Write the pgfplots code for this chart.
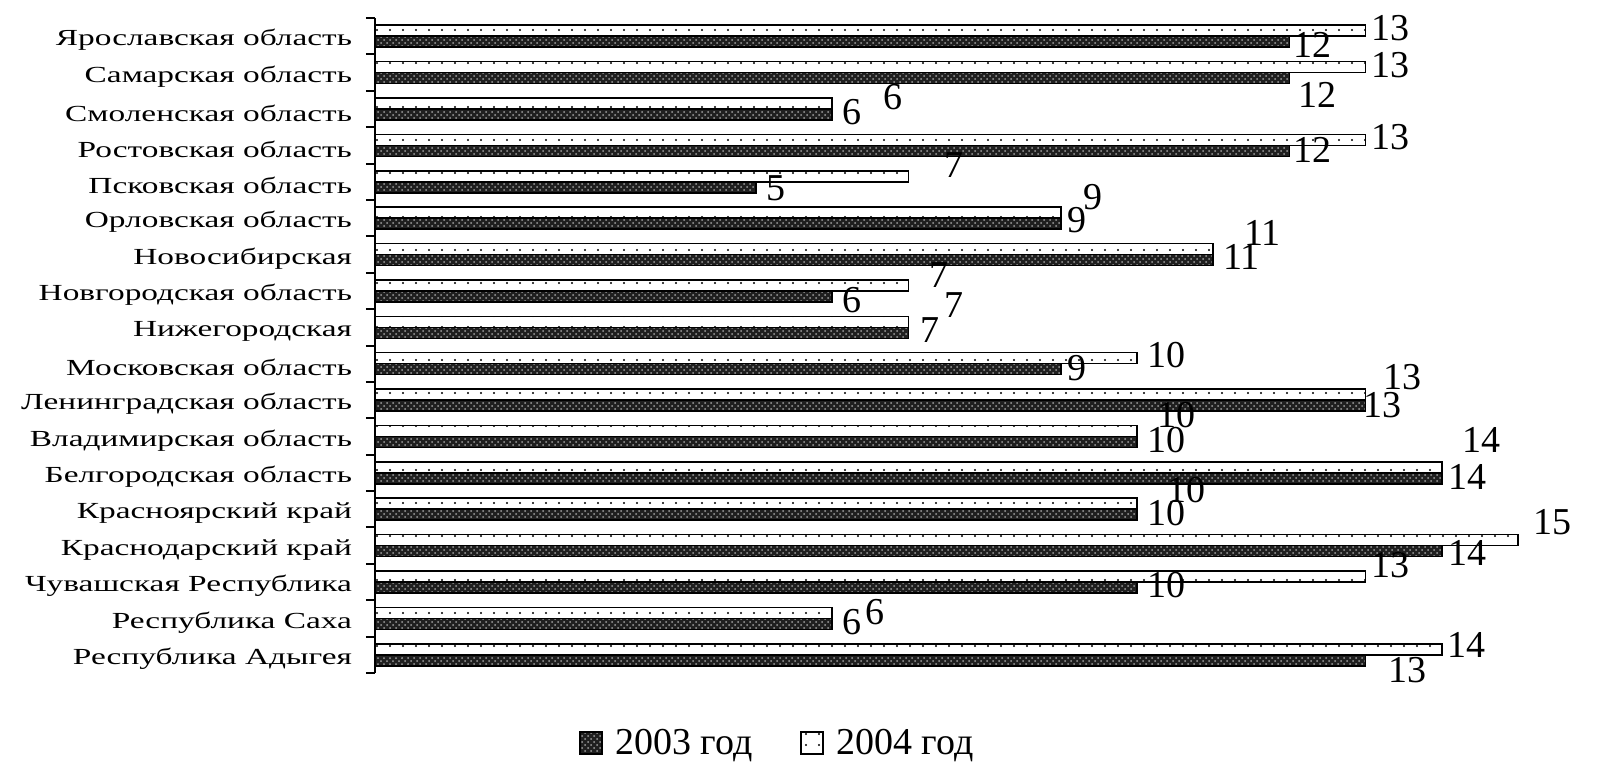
\documentclass[border=0pt]{standalone}
\usepackage{pgfplots}
\pgfplotsset{compat=1.18}
\usepackage{pgfplotstable}
\usepackage{fontspec}
\setmainfont{Liberation Serif}
\newfontfamily\catfont[FakeStretch=1.45]{Liberation Serif}
\usetikzlibrary{patterns,patterns.meta}

\tikzdeclarepattern{
  name=sparsedots, type=uncolored,
  bounding box={(-1pt,-1pt) and (1pt,1pt)},
  tile size={(6.5pt,5.5pt)},
  code={\fill (0pt,0pt) circle (0.55pt);}
}

% y: position (17 = top), v03/v04: values, dxa/dya: label shift 2003, dxb/dyb: label shift 2004
\pgfplotstableread{
y v03 v04 dxa dya dxb dyb
17 12 13 1.5 -1.5 2.5 1.5
16 12 13 4 -8.25 2.5 0.75
15 6 6 4.5 1.25 25 3.25
14 12 13 1.5 0.5 2.5 1.5
13 5 7 5 -0.25 17.5 5.75
12 9 9 3 1.75 11 7.75
11 11 11 4.5 1.75 15 8
10 6 7 4.5 -1.75 10 5.25
9 7 7 5.5 1.25 17.5 8.25
8 9 10 3 0.75 5 1.75
7 13 13 -1.5 0.25 8.5 8.75
6 10 10 5 0.75 10 7.75
5 14 14 3 0.75 10 13.5
4 10 10 5 0.75 15 6.75
3 14 15 3 -0.75 7.5 8.75
2 10 13 5 1.25 2.5 5.75
1 6 6 4.5 0.75 16 0.25
0 13 14 11 -4.75 2.5 2
}\datatable

\begin{document}
\begin{tikzpicture}
\path[use as bounding box] (0,0) rectangle (803pt,389pt);
\begin{axis}[
  at={(187.5pt,52.5pt)}, anchor=south west,
  scale only axis, width=571.5pt, height=327.5pt,
  xbar, bar width=5.5pt,
  xmin=0, xmax=15, ymin=-0.5, ymax=17.5,
  enlargelimits=false,
  axis x line=none, axis y line*=left,
  y axis line style={line width=1pt},
  ytick={0,...,17},
  yticklabels={Республика Адыгея, Республика Саха, Чувашская Республика, Краснодарский край, Красноярский край, Белгородская область, Владимирская область, Ленинградская область, Московская область, Нижегородская, Новгородская область, Новосибирская, Орловская область, Псковская область, Ростовская область, Смоленская область, Самарская область, Ярославская область},
  major tick length=0pt,
  minor ytick={-0.5,0.5,...,17.5},
  minor tick length=4.5pt,
  tick align=outside,
  minor tick style={line width=1pt, black},
  yticklabel style={font=\catfont\fontsize{11.5}{12}\selectfont, xshift=-8pt, yshift=-2pt},
  clip=false,
  /pgf/number format/assume math mode=true,
  nodes near coords, point meta=x,
  every node near coord/.append style={font=\fontsize{19}{19}\selectfont, anchor=west, inner sep=0pt, xshift=\dx pt, yshift=\dy pt, text=black},
  legend style={at={(0.353,-0.107)}, anchor=center, draw=none, fill=none, legend columns=2, font=\fontsize{19}{20}\selectfont,
    /tikz/every odd column/.append style={column sep=4pt},
    /tikz/every even column/.append style={column sep=22pt}},
  legend image code/.code={\draw[#1] (0pt,-5.5pt) rectangle (11pt,5.5pt);},
  reverse legend,
]
\addplot[draw=black, line width=0.8pt, fill=white, postaction={pattern=sparsedots, pattern color=black}, bar shift=2.75pt,
  visualization depends on={\thisrow{dxb}\as\dx},
  visualization depends on={\thisrow{dyb}\as\dy}]
  table[x=v04, y=y]{\datatable};
\addplot[draw=black, line width=0.8pt, fill=black!88, postaction={pattern=crosshatch dots, pattern color=gray!75}, bar shift=-2.75pt,
  visualization depends on={\thisrow{dxa}\as\dx},
  visualization depends on={\thisrow{dya}\as\dy}]
  table[x=v03, y=y]{\datatable};
\legend{2004 год, 2003 год}
\end{axis}
\end{tikzpicture}
\end{document}
